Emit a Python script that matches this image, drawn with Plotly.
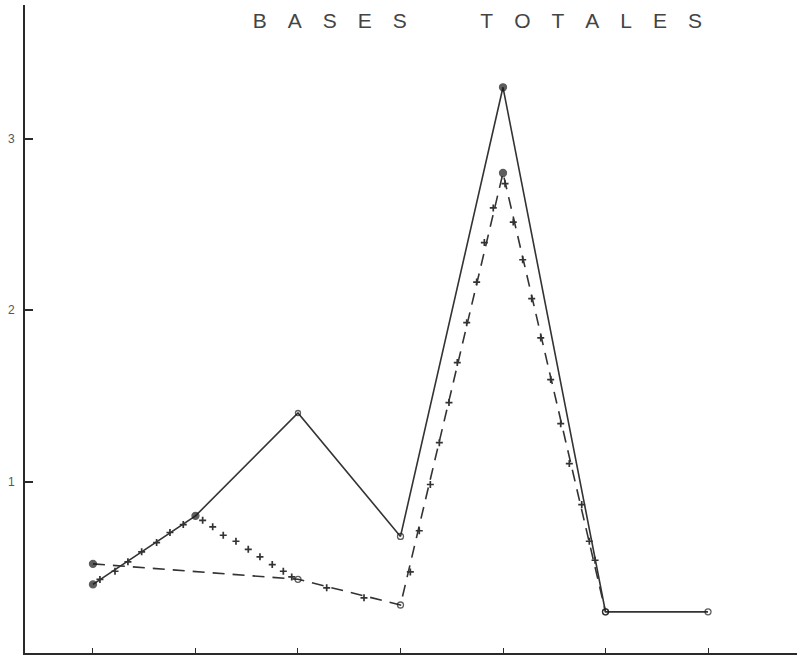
import plotly.graph_objects as go

# ---- data ----
categories = [0, 1, 2, 3, 4, 5, 6]

solid_values = [0.40, 0.80, 1.40, 0.68, 3.30, 0.24, 0.24]
solid_symbols = ["circle", "circle", "circle-open", "circle-open", "circle", "circle-open", "circle-open"]

dashed_x = [0, 2, 3, 4, 5]
dashed_values = [0.52, 0.43, 0.28, 2.80, 0.24]
dashed_symbols = ["circle", "circle-open", "circle-open", "circle", "circle-open"]

cross_x = [0.068, 0.215, 0.341, 0.475, 0.621, 0.751, 0.881,
           1.070, 1.168, 1.271, 1.395, 1.515, 1.629, 1.749, 1.857, 1.939,
           2.280, 2.644,
           3.096, 3.183, 3.291, 3.379, 3.473, 3.554, 3.646, 3.743, 3.818, 3.905, 4.020,
           4.100, 4.192, 4.280, 4.368, 4.465, 4.563, 4.647, 4.768, 4.842, 4.898]
cross_values = [0.429, 0.477, 0.532, 0.590, 0.644, 0.703, 0.749,
                0.774, 0.736, 0.687, 0.652, 0.605, 0.561, 0.516, 0.477, 0.444,
                0.380, 0.322,
                0.473, 0.713, 0.983, 1.227, 1.461, 1.694, 1.927, 2.164, 2.394, 2.596, 2.738,
                2.514, 2.294, 2.067, 1.838, 1.595, 1.338, 1.105, 0.866, 0.652, 0.541]

y_tickvals = [1, 2, 3]
y_ticktext = ["1", "2", "3"]
title_text = "BASES TOTALES"

INK = "#333333"
DOT = "#1a1a1a"

fig = go.Figure()

fig.add_trace(go.Scatter(
    x=categories, y=solid_values, mode="lines+markers",
    line=dict(color=INK, width=1.6),
    marker=dict(symbol=solid_symbols, size=[7, 7, 5, 6, 7, 6, 6], color=DOT,
                line=dict(color=DOT, width=1.3)),
    showlegend=False, hoverinfo="skip"))

fig.add_trace(go.Scatter(
    x=dashed_x, y=dashed_values, mode="lines+markers",
    line=dict(color=INK, width=1.6, dash="12px,8px"),
    marker=dict(symbol=dashed_symbols, size=[7, 6, 6, 7, 6], color=DOT,
                line=dict(color=DOT, width=1.3)),
    showlegend=False, hoverinfo="skip"))

fig.add_trace(go.Scatter(
    x=cross_x, y=cross_values, mode="markers",
    marker=dict(symbol="cross-thin", size=5, color=INK,
                line=dict(color=INK, width=1.7)),
    showlegend=False, hoverinfo="skip"))


def spaced(word):
    return "\u2003".join(list(word))


words = title_text.split(" ")
title_str = ("\u2003\u2003\u2003\u2002").join(spaced(w) for w in words)

fig.update_layout(
    width=797, height=656,
    margin=dict(l=25, r=0, t=5, b=3, autoexpand=False),
    paper_bgcolor="white", plot_bgcolor="white",
    hovermode=False,
    title=dict(text=title_str, x=0.599, xanchor="center", y=0.969, yanchor="middle",
               automargin=False,
               font=dict(family="Liberation Sans, Arial, sans-serif", size=21, color="#444444")),
    xaxis=dict(range=[-0.663, 6.868], showgrid=False, zeroline=False, automargin=False,
               showline=True, linecolor="#2a2a2a", linewidth=2,
               ticks="inside", ticklen=5, tickwidth=1, tickcolor="#2a2a2a",
               tickvals=categories, showticklabels=False),
    yaxis=dict(range=[0, 3.78], showgrid=False, zeroline=False, automargin=False,
               showline=True, linecolor="#2a2a2a", linewidth=2,
               ticks="inside", ticklen=8, tickwidth=1.5, tickcolor="#2a2a2a",
               tickvals=y_tickvals, ticktext=y_ticktext, ticklabelstandoff=6,
               tickfont=dict(family="Liberation Sans, Arial, sans-serif", size=12, color="#555555")),
)

fig.write_html("out.html", config={"displayModeBar": False},
               post_script="document.body.style.margin='0';document.body.style.overflow='hidden';")
